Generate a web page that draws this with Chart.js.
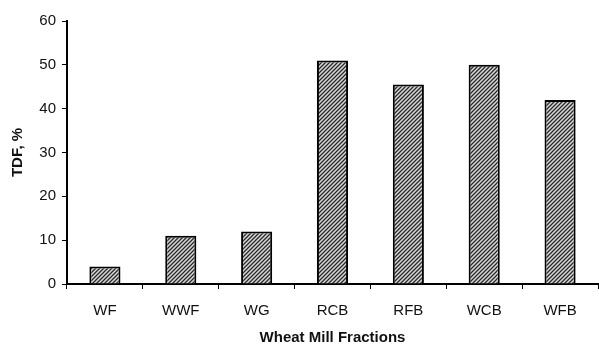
<!DOCTYPE html>
<html>
<head>
<meta charset="utf-8">
<script src="https://cdn.jsdelivr.net/npm/chart.js@4.4.1/dist/chart.umd.min.js"></script>
<style>
  html, body { margin: 0; padding: 0; background: #fff; }
  #wrap { width: 599px; height: 346px; }
</style>
</head>
<body>
<div id="wrap"><canvas id="TdfChart" width="599" height="346"></canvas></div>
<script>
const fractionLabels = ["WF", "WWF", "WG", "RCB", "RFB", "WCB", "WFB"];
const tdfValues = [4, 11, 12, 51, 45.5, 50, 42];
const yTickValues = [0, 10, 20, 30, 40, 50, 60];

// diagonal hatch fill like the scanned bars
function makeHatch() {
  const c = document.createElement("canvas");
  c.width = 4;
  c.height = 4;
  const g = c.getContext("2d");
  g.fillStyle = "#d8d8d8";
  g.fillRect(0, 0, 4, 4);
  g.strokeStyle = "#2a2a2a";
  g.lineWidth = 1.3;
  g.beginPath();
  g.moveTo(0, 4); g.lineTo(4, 0);
  g.moveTo(-1, 1); g.lineTo(1, -1);
  g.moveTo(3, 5); g.lineTo(5, 3);
  g.stroke();
  return g.createPattern(c, "repeat");
}

const ctx = document.getElementById("TdfChart").getContext("2d");
new Chart(ctx, {
  type: "bar",
  data: {
    labels: fractionLabels,
    datasets: [{
      label: "TDF",
      data: tdfValues,
      backgroundColor: makeHatch(),
      borderColor: "#000",
      borderWidth: 2,
      borderSkipped: "bottom",
      categoryPercentage: 1,
      barPercentage: 0.41
    }]
  },
  options: {
    responsive: false,
    animation: false,
    layout: { padding: { top: 21, right: 1, left: 0, bottom: 0 } },
    plugins: { legend: { display: false }, tooltip: { enabled: false } },
    scales: {
      x: {
        afterFit: s => { s.height = 62; },
        border: { display: true, color: "#000", width: 2 },
        grid: { display: true, drawOnChartArea: false, color: "#000", tickLength: 5, lineWidth: 1 },
        ticks: { color: "#111", padding: 13, font: { family: "Liberation Sans", size: 15 } },
        title: {
          display: true,
          text: "Wheat Mill Fractions",
          color: "#111",
          padding: { top: 0, bottom: 1 },
          font: { family: "Liberation Sans", size: 15, weight: "bold", lineHeight: 1 }
        }
      },
      y: {
        min: 0,
        max: 60,
        afterFit: s => { s.width = 67; },
        afterBuildTicks: s => { s.ticks = yTickValues.map(v => ({ value: v })); },
        border: { display: true, color: "#000", width: 2 },
        grid: { display: true, drawOnChartArea: false, color: "#000", tickLength: 5, lineWidth: 1 },
        ticks: { color: "#111", padding: 6, font: { family: "Liberation Sans", size: 15 } },
        title: {
          display: true,
          text: "TDF, %",
          color: "#111",
          padding: { top: 10, bottom: 0 },
          font: { family: "Liberation Sans", size: 15, weight: "bold", lineHeight: 1 }
        }
      }
    }
  }
});
</script>
</body>
</html>
